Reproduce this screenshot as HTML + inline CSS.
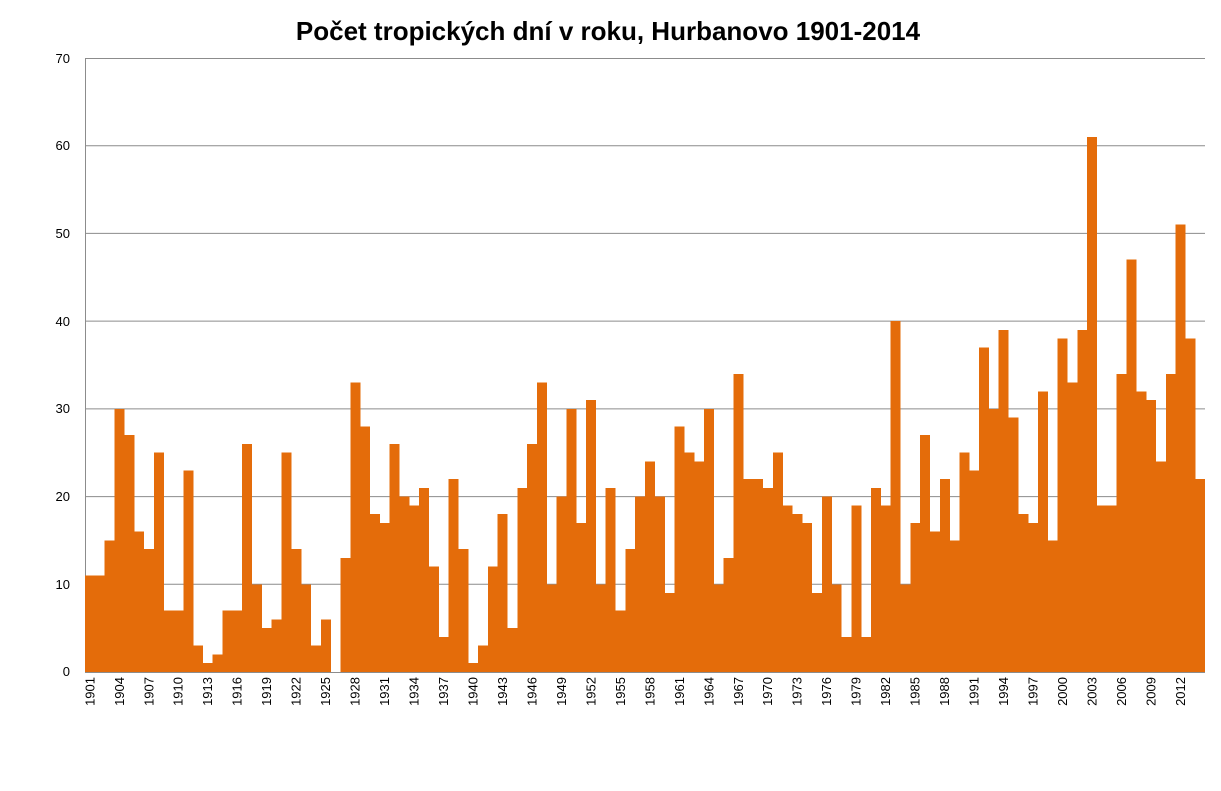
<!DOCTYPE html>
<html><head><meta charset="utf-8"><style>
body{margin:0;background:#fff;}
svg{display:block;font-family:"Liberation Sans",sans-serif;}
</style></head><body>
<svg width="1221" height="791" viewBox="0 0 1221 791" xmlns="http://www.w3.org/2000/svg">
<rect width="1221" height="791" fill="#fff"/>
<text x="608" y="40" text-anchor="middle" font-size="26" font-weight="bold" fill="#000">Počet tropických dní v roku, Hurbanovo 1901-2014</text>
<g stroke="#8c8c8c" stroke-width="1">
<line x1="85" x2="1205" y1="58.5" y2="58.5"/>
<line x1="85" x2="1205" y1="145.7" y2="145.7"/>
<line x1="85" x2="1205" y1="233.4" y2="233.4"/>
<line x1="85" x2="1205" y1="321.1" y2="321.1"/>
<line x1="85" x2="1205" y1="408.9" y2="408.9"/>
<line x1="85" x2="1205" y1="496.6" y2="496.6"/>
<line x1="85" x2="1205" y1="584.3" y2="584.3"/>
<line x1="85.5" x2="85.5" y1="58" y2="672"/>
</g>
<g font-size="13" fill="#000" text-anchor="end">
<text x="70" y="63">70</text><text x="70" y="150">60</text><text x="70" y="238">50</text><text x="70" y="326">40</text><text x="70" y="413">30</text><text x="70" y="501">20</text><text x="70" y="589">10</text><text x="70" y="676">0</text>
</g>
<g transform="translate(85,672) scale(9.825,-8.7714)" fill="#e46c0a" shape-rendering="crispEdges">
<rect x="0" y="0" width="1.02" height="11"/><rect x="1" y="0" width="1.02" height="11"/><rect x="2" y="0" width="1.02" height="15"/><rect x="3" y="0" width="1.02" height="30"/><rect x="4" y="0" width="1.02" height="27"/><rect x="5" y="0" width="1.02" height="16"/><rect x="6" y="0" width="1.02" height="14"/><rect x="7" y="0" width="1.02" height="25"/><rect x="8" y="0" width="1.02" height="7"/><rect x="9" y="0" width="1.02" height="7"/>
<rect x="10" y="0" width="1.02" height="23"/><rect x="11" y="0" width="1.02" height="3"/><rect x="12" y="0" width="1.02" height="1"/><rect x="13" y="0" width="1.02" height="2"/><rect x="14" y="0" width="1.02" height="7"/><rect x="15" y="0" width="1.02" height="7"/><rect x="16" y="0" width="1.02" height="26"/><rect x="17" y="0" width="1.02" height="10"/><rect x="18" y="0" width="1.02" height="5"/><rect x="19" y="0" width="1.02" height="6"/>
<rect x="20" y="0" width="1.02" height="25"/><rect x="21" y="0" width="1.02" height="14"/><rect x="22" y="0" width="1.02" height="10"/><rect x="23" y="0" width="1.02" height="3"/><rect x="24" y="0" width="1.02" height="6"/><rect x="26" y="0" width="1.02" height="13"/><rect x="27" y="0" width="1.02" height="33"/><rect x="28" y="0" width="1.02" height="28"/><rect x="29" y="0" width="1.02" height="18"/>
<rect x="30" y="0" width="1.02" height="17"/><rect x="31" y="0" width="1.02" height="26"/><rect x="32" y="0" width="1.02" height="20"/><rect x="33" y="0" width="1.02" height="19"/><rect x="34" y="0" width="1.02" height="21"/><rect x="35" y="0" width="1.02" height="12"/><rect x="36" y="0" width="1.02" height="4"/><rect x="37" y="0" width="1.02" height="22"/><rect x="38" y="0" width="1.02" height="14"/><rect x="39" y="0" width="1.02" height="1"/>
<rect x="40" y="0" width="1.02" height="3"/><rect x="41" y="0" width="1.02" height="12"/><rect x="42" y="0" width="1.02" height="18"/><rect x="43" y="0" width="1.02" height="5"/><rect x="44" y="0" width="1.02" height="21"/><rect x="45" y="0" width="1.02" height="26"/><rect x="46" y="0" width="1.02" height="33"/><rect x="47" y="0" width="1.02" height="10"/><rect x="48" y="0" width="1.02" height="20"/><rect x="49" y="0" width="1.02" height="30"/>
<rect x="50" y="0" width="1.02" height="17"/><rect x="51" y="0" width="1.02" height="31"/><rect x="52" y="0" width="1.02" height="10"/><rect x="53" y="0" width="1.02" height="21"/><rect x="54" y="0" width="1.02" height="7"/><rect x="55" y="0" width="1.02" height="14"/><rect x="56" y="0" width="1.02" height="20"/><rect x="57" y="0" width="1.02" height="24"/><rect x="58" y="0" width="1.02" height="20"/><rect x="59" y="0" width="1.02" height="9"/>
<rect x="60" y="0" width="1.02" height="28"/><rect x="61" y="0" width="1.02" height="25"/><rect x="62" y="0" width="1.02" height="24"/><rect x="63" y="0" width="1.02" height="30"/><rect x="64" y="0" width="1.02" height="10"/><rect x="65" y="0" width="1.02" height="13"/><rect x="66" y="0" width="1.02" height="34"/><rect x="67" y="0" width="1.02" height="22"/><rect x="68" y="0" width="1.02" height="22"/><rect x="69" y="0" width="1.02" height="21"/>
<rect x="70" y="0" width="1.02" height="25"/><rect x="71" y="0" width="1.02" height="19"/><rect x="72" y="0" width="1.02" height="18"/><rect x="73" y="0" width="1.02" height="17"/><rect x="74" y="0" width="1.02" height="9"/><rect x="75" y="0" width="1.02" height="20"/><rect x="76" y="0" width="1.02" height="10"/><rect x="77" y="0" width="1.02" height="4"/><rect x="78" y="0" width="1.02" height="19"/><rect x="79" y="0" width="1.02" height="4"/>
<rect x="80" y="0" width="1.02" height="21"/><rect x="81" y="0" width="1.02" height="19"/><rect x="82" y="0" width="1.02" height="40"/><rect x="83" y="0" width="1.02" height="10"/><rect x="84" y="0" width="1.02" height="17"/><rect x="85" y="0" width="1.02" height="27"/><rect x="86" y="0" width="1.02" height="16"/><rect x="87" y="0" width="1.02" height="22"/><rect x="88" y="0" width="1.02" height="15"/><rect x="89" y="0" width="1.02" height="25"/>
<rect x="90" y="0" width="1.02" height="23"/><rect x="91" y="0" width="1.02" height="37"/><rect x="92" y="0" width="1.02" height="30"/><rect x="93" y="0" width="1.02" height="39"/><rect x="94" y="0" width="1.02" height="29"/><rect x="95" y="0" width="1.02" height="18"/><rect x="96" y="0" width="1.02" height="17"/><rect x="97" y="0" width="1.02" height="32"/><rect x="98" y="0" width="1.02" height="15"/><rect x="99" y="0" width="1.02" height="38"/>
<rect x="100" y="0" width="1.02" height="33"/><rect x="101" y="0" width="1.02" height="39"/><rect x="102" y="0" width="1.02" height="61"/><rect x="103" y="0" width="1.02" height="19"/><rect x="104" y="0" width="1.02" height="19"/><rect x="105" y="0" width="1.02" height="34"/><rect x="106" y="0" width="1.02" height="47"/><rect x="107" y="0" width="1.02" height="32"/><rect x="108" y="0" width="1.02" height="31"/><rect x="109" y="0" width="1.02" height="24"/>
<rect x="110" y="0" width="1.02" height="34"/><rect x="111" y="0" width="1.02" height="51"/><rect x="112" y="0" width="1.02" height="38"/><rect x="113" y="0" width="1.02" height="22"/>
</g>
<line x1="85" x2="1205" y1="672.5" y2="672.5" stroke="#8c8c8c"/>
<g font-size="13" fill="#000" text-anchor="end" dominant-baseline="middle">
<text transform="translate(90.9,677) rotate(-90)">1901</text>
<text transform="translate(120.4,677) rotate(-90)">1904</text>
<text transform="translate(149.9,677) rotate(-90)">1907</text>
<text transform="translate(179.3,677) rotate(-90)">1910</text>
<text transform="translate(208.8,677) rotate(-90)">1913</text>
<text transform="translate(238.3,677) rotate(-90)">1916</text>
<text transform="translate(267.8,677) rotate(-90)">1919</text>
<text transform="translate(297.2,677) rotate(-90)">1922</text>
<text transform="translate(326.7,677) rotate(-90)">1925</text>
<text transform="translate(356.2,677) rotate(-90)">1928</text>
<text transform="translate(385.7,677) rotate(-90)">1931</text>
<text transform="translate(415.1,677) rotate(-90)">1934</text>
<text transform="translate(444.6,677) rotate(-90)">1937</text>
<text transform="translate(474.1,677) rotate(-90)">1940</text>
<text transform="translate(503.6,677) rotate(-90)">1943</text>
<text transform="translate(533.0,677) rotate(-90)">1946</text>
<text transform="translate(562.5,677) rotate(-90)">1949</text>
<text transform="translate(592.0,677) rotate(-90)">1952</text>
<text transform="translate(621.5,677) rotate(-90)">1955</text>
<text transform="translate(650.9,677) rotate(-90)">1958</text>
<text transform="translate(680.4,677) rotate(-90)">1961</text>
<text transform="translate(709.9,677) rotate(-90)">1964</text>
<text transform="translate(739.4,677) rotate(-90)">1967</text>
<text transform="translate(768.8,677) rotate(-90)">1970</text>
<text transform="translate(798.3,677) rotate(-90)">1973</text>
<text transform="translate(827.8,677) rotate(-90)">1976</text>
<text transform="translate(857.3,677) rotate(-90)">1979</text>
<text transform="translate(886.7,677) rotate(-90)">1982</text>
<text transform="translate(916.2,677) rotate(-90)">1985</text>
<text transform="translate(945.7,677) rotate(-90)">1988</text>
<text transform="translate(975.2,677) rotate(-90)">1991</text>
<text transform="translate(1004.6,677) rotate(-90)">1994</text>
<text transform="translate(1034.1,677) rotate(-90)">1997</text>
<text transform="translate(1063.6,677) rotate(-90)">2000</text>
<text transform="translate(1093.1,677) rotate(-90)">2003</text>
<text transform="translate(1122.5,677) rotate(-90)">2006</text>
<text transform="translate(1152.0,677) rotate(-90)">2009</text>
<text transform="translate(1181.5,677) rotate(-90)">2012</text>
</g>
</svg>
</body></html>
